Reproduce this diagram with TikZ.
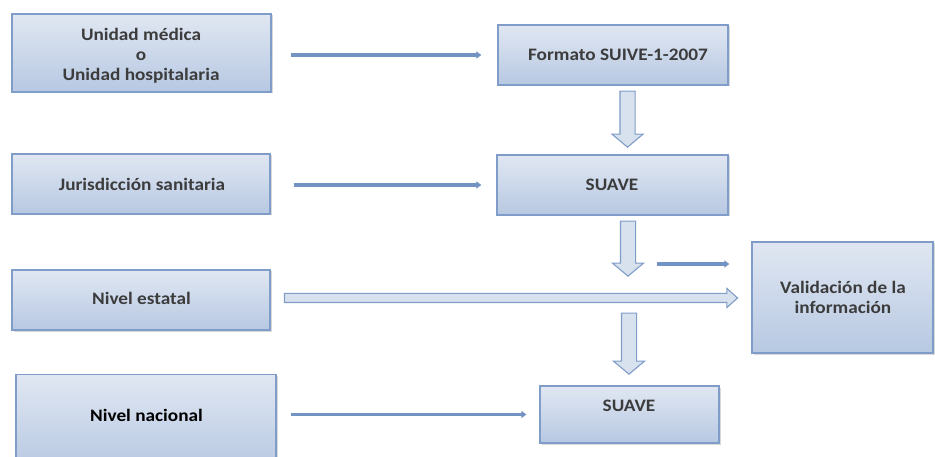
\documentclass[tikz,border=0pt]{standalone}
\usepackage{fontspec}
\setmainfont{Carlito}[FakeStretch=1.1]
\usetikzlibrary{arrows.meta,shapes.arrows,shadows}
\definecolor{boxtop}{HTML}{E0E7F2}
\definecolor{boxbot}{HTML}{B7C8E2}
\definecolor{boxline}{HTML}{7F9DC8}
\definecolor{arrline}{HTML}{7393C4}
\definecolor{arrfill}{HTML}{D8E1EE}
\definecolor{txtgray}{HTML}{3C3C3C}
\tikzset{
  box/.style={draw=boxline, line width=1.3pt, top color=boxtop, bottom color=boxbot,
    drop shadow={opacity=0.3, shadow xshift=1.5pt, shadow yshift=-1.5pt},
    inner sep=0pt},
  txt/.style={font=\fontsize{17.5}{20}\selectfont\bfseries, text=txtgray, align=center},
  thinarr/.style={draw=arrline, line width=3.4pt,
    -{Triangle[length=5pt,width=7pt]}},
  bigarr/.style={single arrow, draw=boxline, line width=1.1pt, fill=arrfill,
    single arrow tip angle=100, inner sep=7pt, single arrow head extend=8pt,
    minimum width=30pt}
}
\begin{document}
\begin{tikzpicture}[x=1pt,y=-1pt]
    \useasboundingbox (0,0) rectangle (935,457);
    \clip (0,0) rectangle (935,457);

    \node[box, minimum width=259pt, minimum height=78pt]  (um)  at (141.5,53)  {};
    \node[box, minimum width=230pt, minimum height=60pt]  (fmt) at (613,55)    {};
    \node[box, minimum width=258pt, minimum height=60pt]  (jur) at (141,184)   {};
    \node[box, minimum width=231pt, minimum height=60pt]  (sv1) at (612.5,185) {};
    \node[box, minimum width=258pt, minimum height=60pt]  (est) at (141,300)   {};
    \node[box, minimum width=181pt, minimum height=111pt] (val) at (842.5,297.5) {};
    \node[box, minimum width=260pt, minimum height=95pt]  (nac) at (146,422)   {};
    \node[box, minimum width=179pt, minimum height=57pt]  (sv2) at (629.5,414.5) {};

    \node[txt] (umtxt)  at (141,56)  {Unidad médica\\o\\Unidad hospitalaria};
    \node[txt] (fmttxt) at (618,55)  {Formato SUIVE-1-2007};
    \node[txt] (jurtxt) at (142,184) {Jurisdicción sanitaria};
    \node[txt] (sv1txt) at (612,185) {SUAVE};
    \node[txt] (esttxt) at (141.5,298) {Nivel estatal};
    \node[txt] (valtxt) at (843,297) {Validación de la\\información};
    \node[txt, text=black] (nactxt) at (146.5,415) {Nivel nacional};
    \node[txt] (sv2txt) at (629,406) {SUAVE};

    \draw[thinarr, shorten <=19pt, shorten >=16pt] (um.east |- fmt.west) -- (fmt.west);
    \draw[thinarr, shorten <=23pt, shorten >=15pt] (jur.east |- sv1.west) -- (sv1.west);
    \draw[thinarr, shorten <=14pt, shorten >=13pt] (nac.east |- sv2.west) -- (sv2.west);
    \coordinate (vsrc) at (657,264);
    \draw[thinarr, shorten >=22pt] (vsrc) -- (val.west |- vsrc);

    \node[bigarr, rotate=-90, minimum height=56pt] (d1) at (627.5,116) {};
    \node[bigarr, rotate=-90, minimum height=55pt] (d2) at (628,245.5) {};
    \node[bigarr, rotate=-90, minimum height=61pt] (d3) at (629,340.5) {};
    \node[bigarr, inner sep=4pt, single arrow head extend=5pt, minimum width=18pt,
          single arrow tip angle=84, minimum height=453pt] (hest) at (508.5,298) {};

\end{tikzpicture}
\end{document}
